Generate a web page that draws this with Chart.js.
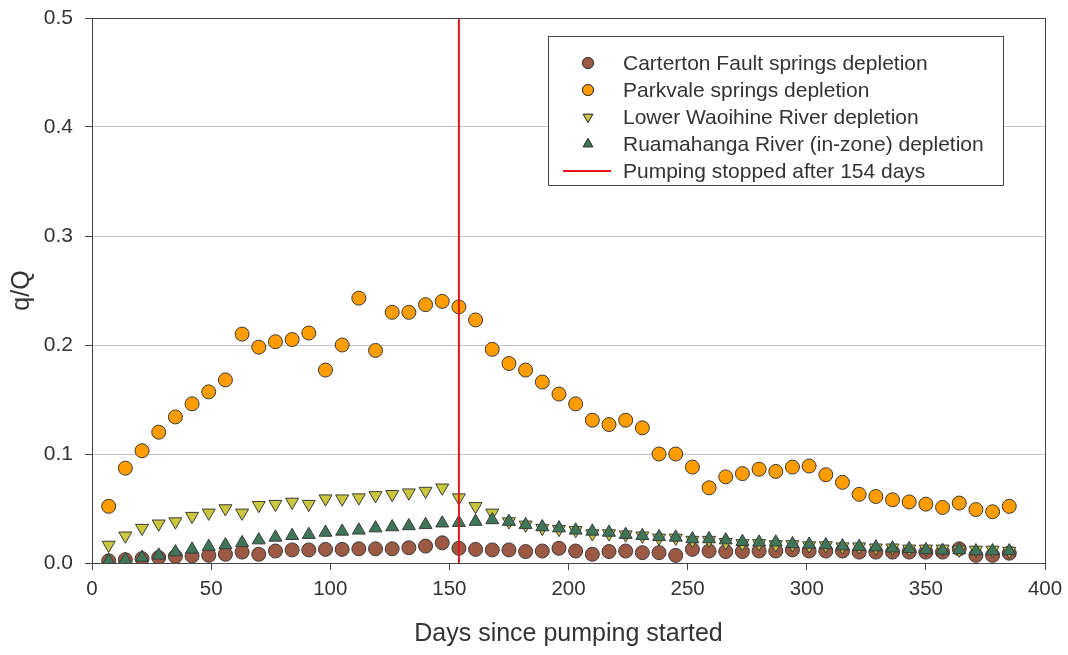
<!DOCTYPE html>
<html>
<head>
<meta charset="utf-8">
<script src="https://cdn.jsdelivr.net/npm/chart.js@4.4.1/dist/chart.umd.min.js"></script>
<style>
  html, body { margin: 0; padding: 0; background: #fff; }
  #wrap { width: 1068px; height: 655px; }
</style>
</head>
<body>
<div id="wrap"><canvas id="chart" width="1068" height="655"></canvas></div>
<script>
// days since pumping started (weekly samples)
const days = [7, 14, 21, 28, 35, 42, 49, 56, 63, 70, 77, 84, 91, 98, 105, 112, 119, 126, 133, 140,
  147, 154, 161, 168, 175, 182, 189, 196, 203, 210, 217, 224, 231, 238, 245, 252, 259, 266, 273, 280,
  287, 294, 301, 308, 315, 322, 329, 336, 343, 350, 357, 364, 371, 378, 385];

const carterton = [0.002, 0.003, 0.004, 0.005, 0.006, 0.0065, 0.007, 0.008, 0.010, 0.008, 0.011, 0.012, 0.012, 0.0125, 0.0125, 0.013, 0.013, 0.013, 0.014, 0.0155,
  0.0185, 0.0135, 0.0125, 0.012, 0.012, 0.0105, 0.011, 0.0135, 0.011, 0.008, 0.0105, 0.011, 0.0095, 0.0095, 0.007, 0.0125, 0.011, 0.0105, 0.0105, 0.011,
  0.011, 0.012, 0.011, 0.011, 0.011, 0.010, 0.010, 0.010, 0.010, 0.010, 0.010, 0.013, 0.007, 0.007, 0.009];

const parkvale = [0.052, 0.087, 0.103, 0.120, 0.134, 0.146, 0.157, 0.168, 0.210, 0.198, 0.203, 0.205, 0.211, 0.177, 0.200, 0.243, 0.195, 0.230, 0.230, 0.237,
  0.240, 0.235, 0.223, 0.196, 0.183, 0.177, 0.166, 0.155, 0.146, 0.131, 0.127, 0.131, 0.124, 0.100, 0.100, 0.088, 0.069, 0.079, 0.082, 0.086,
  0.084, 0.088, 0.089, 0.081, 0.074, 0.063, 0.061, 0.058, 0.056, 0.054, 0.051, 0.055, 0.049, 0.047, 0.052];

const waoihine = [0.0165, 0.025, 0.032, 0.036, 0.038, 0.043, 0.046, 0.050, 0.046, 0.053, 0.054, 0.056, 0.054, 0.059, 0.059, 0.060, 0.062, 0.063, 0.0645, 0.066,
  0.069, 0.060, 0.052, 0.046, 0.038, 0.035, 0.032, 0.031, 0.030, 0.027, 0.027, 0.026, 0.025, 0.023, 0.023, 0.021, 0.021, 0.019, 0.018, 0.018,
  0.017, 0.017, 0.016, 0.016, 0.015, 0.015, 0.014, 0.014, 0.013, 0.013, 0.013, 0.012, 0.012, 0.012, 0.011];

const ruamahanga = [0.002, 0.003, 0.005, 0.007, 0.010, 0.0125, 0.015, 0.0165, 0.0185, 0.021, 0.0235, 0.025, 0.026, 0.028, 0.029, 0.030, 0.032, 0.033, 0.034, 0.035,
  0.0365, 0.037, 0.038, 0.0395, 0.038, 0.035, 0.033, 0.032, 0.030, 0.029, 0.028, 0.026, 0.025, 0.024, 0.0235, 0.022, 0.022, 0.021, 0.0195, 0.019,
  0.019, 0.0175, 0.017, 0.0165, 0.0155, 0.015, 0.0145, 0.0135, 0.013, 0.012, 0.0115, 0.012, 0.011, 0.011, 0.011];

const stopDay = 154;
const seriesNames = [
  "Carterton Fault springs depletion",
  "Parkvale springs depletion",
  "Lower Waoihine River depletion",
  "Ruamahanga River (in-zone) depletion",
  "Pumping stopped after 154 days"
];

function toPoints(values) {
  return days.map((d, i) => ({ x: d, y: values[i] }));
}

const FONT = "'Liberation Sans', Arial, sans-serif";

// thin frame around the plot area
const framePlugin = {
  id: "frame",
  afterDraw(chart) {
    const a = chart.chartArea;
    const ctx = chart.ctx;
    ctx.save();
    ctx.strokeStyle = "#444";
    ctx.lineWidth = 1;
    ctx.strokeRect(a.left + 0.5, a.top + 0.5, a.right - a.left, a.bottom - a.top);
    ctx.restore();
  }
};

// boxed legend inside the plot, upper right
const legendPlugin = {
  id: "boxLegend",
  afterDraw(chart) {
    const ctx = chart.ctx;
    const x0 = 548, y0 = 36, w = 455, h = 149;
    ctx.save();
    ctx.fillStyle = "#fff";
    ctx.fillRect(x0, y0, w, h);
    ctx.strokeStyle = "#444";
    ctx.lineWidth = 1;
    ctx.strokeRect(x0 + 0.5, y0 + 0.5, w, h);
    ctx.font = "21px " + FONT;
    ctx.textBaseline = "middle";
    // legend rows in the original listing order
    const rows = chart.data.datasets.slice().sort((a, b) => a.legendIndex - b.legendIndex);
    rows.forEach((ds, i) => {
      const y = y0 + 27 + i * 27;
      if (ds.showLine) {
        ctx.strokeStyle = ds.borderColor;
        ctx.lineWidth = 2;
        ctx.beginPath();
        ctx.moveTo(563, y);
        ctx.lineTo(611, y);
        ctx.stroke();
      } else {
        Chart.helpers.drawPoint(ctx, {
          pointStyle: ds.pointStyle,
          rotation: ds.rotation || 0,
          radius: 5.5,
          borderWidth: 1
        }, 588, y);
        ctx.fillStyle = ds.backgroundColor;
        ctx.strokeStyle = ds.borderColor;
        ctx.lineWidth = 1;
        ctx.fill();
        ctx.stroke();
      }
      ctx.fillStyle = "#333";
      ctx.fillText(ds.label, 623, y + 1);
    });
    ctx.restore();
  }
};

function pointSet(idx, values, fill, style, rotation, order) {
  return {
    label: seriesNames[idx],
    legendIndex: idx,
    order: order,
    data: toPoints(values),
    pointStyle: style,
    rotation: rotation,
    pointRadius: style === "circle" ? 7 : 7.5,
    pointBackgroundColor: fill,
    pointBorderColor: "#3a3a3a",
    pointBorderWidth: 1,
    backgroundColor: fill,
    borderColor: "#3a3a3a",
    showLine: false
  };
}

const ctx = document.getElementById("chart").getContext("2d");
new Chart(ctx, {
  type: "scatter",
  data: {
    datasets: [
      pointSet(0, carterton, "#9c5a44", "circle", 0, 4),
      pointSet(1, parkvale, "#ff9c00", "circle", 0, 3),
      pointSet(2, waoihine, "#c9c83c", "triangle", 180, 2),
      pointSet(3, ruamahanga, "#3f7558", "triangle", 0, 1),
      {
        label: seriesNames[4],
        legendIndex: 4,
        order: 0,
        data: [{ x: stopDay, y: 0 }, { x: stopDay, y: 0.5 }],
        showLine: true,
        borderColor: "#e4131d",
        borderWidth: 2,
        pointRadius: 0,
        backgroundColor: "#e4131d"
      }
    ]
  },
  options: {
    responsive: false,
    animation: false,
    layout: { padding: { top: 18, right: 23, left: 0, bottom: 0 } },
    plugins: {
      legend: { display: false },
      tooltip: { enabled: false }
    },
    scales: {
      x: {
        type: "linear",
        min: 0,
        max: 400,
        afterFit(scale) { scale.height = 92; scale.paddingLeft = 0; scale.paddingRight = 0; },
        ticks: {
          stepSize: 50,
          color: "#333",
          font: { family: FONT, size: 20.5 },
          padding: 7,
          maxRotation: 0
        },
        grid: {
          drawOnChartArea: false,
          tickLength: 7,
          tickColor: "#444"
        },
        border: { color: "#444", width: 1 },
        title: {
          display: true,
          text: "Days since pumping started",
          color: "#333",
          font: { family: FONT, size: 25 },
          padding: { top: 0, bottom: 6 }
        }
      },
      y: {
        min: 0,
        max: 0.5,
        afterFit(scale) { scale.width = 92; scale.paddingTop = 0; scale.paddingBottom = 0; },
        ticks: {
          stepSize: 0.1,
          color: "#333",
          font: { family: FONT, size: 21 },
          padding: 12,
          callback: (v) => v.toFixed(1)
        },
        grid: {
          color: "#c4c4c4",
          lineWidth: 1,
          tickLength: 7,
          tickColor: "#444"
        },
        border: { color: "#444", width: 1 },
        title: {
          display: true,
          text: "q/Q",
          color: "#333",
          font: { family: FONT, size: 25 },
          padding: { top: 7, bottom: 0 }
        }
      }
    }
  },
  plugins: [framePlugin, legendPlugin]
});
</script>
</body>
</html>
